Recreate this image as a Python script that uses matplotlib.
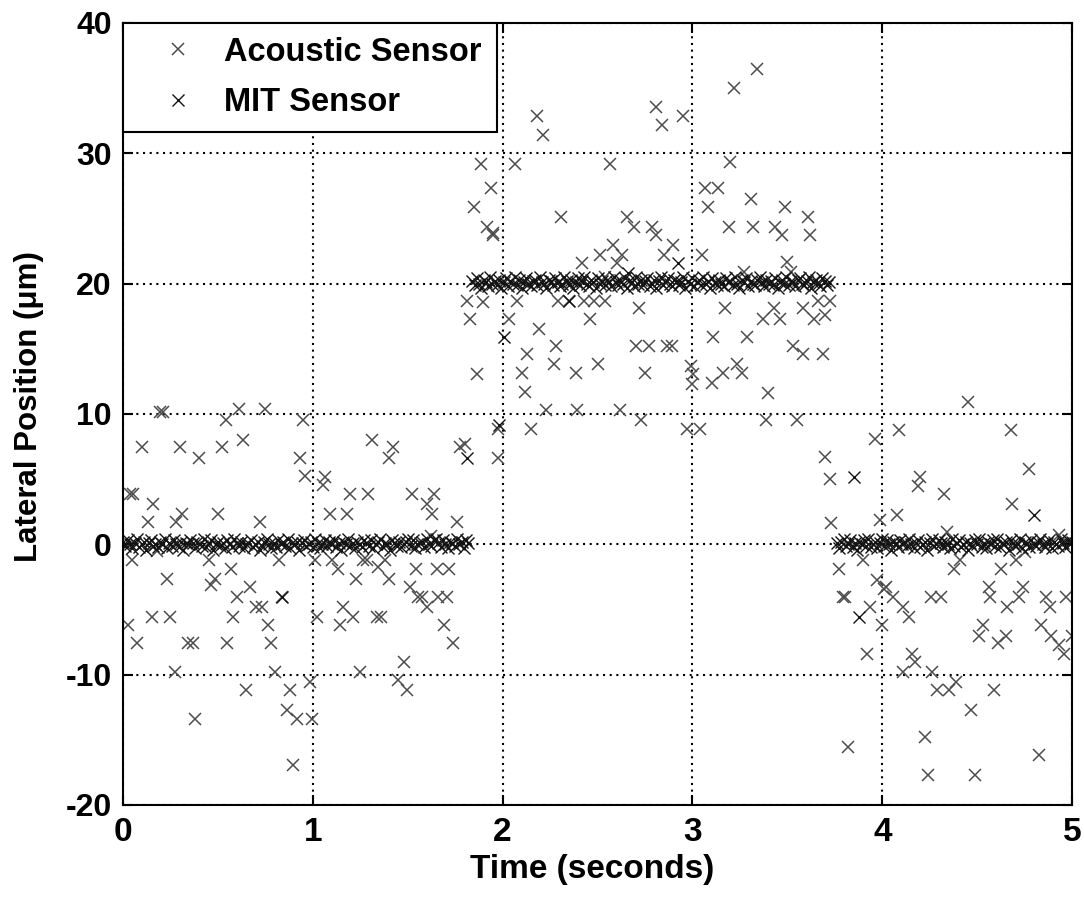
import numpy as np
import matplotlib
matplotlib.use("Agg")
import matplotlib.pyplot as plt

plt.rcParams['axes.unicode_minus'] = False

# acoustic sensor samples (time s, lateral position um)
acoustic_t = [0.195, 0.21, 0.61, 0.75, 0.54, 0.95, 0.098, 0.30, 0.52, 0.634, 0.40, 0.93, 0.96,
              0.037, 0.054, 0.16, 0.133, 0.28, 0.31, 0.50, 0.72, 0.046, 0.18, 0.453, 0.82, 0.23,
              0.57, 0.485, 0.462, 0.67, 0.60, 0.70, 0.73, 0.15, 0.25, 0.58, 0.028, 0.766, 0.072,
              0.344, 0.37, 0.546, 0.78, 0.274, 0.80, 0.646, 0.88, 0.862, 0.915, 0.38, 0.985, 0.994,
              0.897, 0.84,
              1.977, 1.977, 1.31, 1.424, 1.403, 1.776, 1.80, 1.064, 1.052, 1.196, 1.29, 1.52, 1.64,
              1.60, 1.63, 1.09, 1.18, 1.758, 1.01, 1.10, 1.13, 1.266, 1.284, 1.38, 1.345, 1.40,
              1.23, 1.544, 1.656, 1.715, 1.51, 1.556, 1.574, 1.60, 1.66, 1.705, 1.16, 1.21, 1.02,
              1.143, 1.337, 1.36, 1.69, 1.737, 1.25, 1.48, 1.45, 1.494, 1.62,
              2.18, 2.215, 2.81, 2.84, 2.95, 2.065, 2.566, 1.94, 1.95, 2.31, 2.654, 2.69, 2.785,
              2.81, 2.90, 2.85, 2.58, 2.63, 2.60, 2.513, 2.42, 2.54, 2.074, 2.29, 2.35, 2.43, 2.48,
              2.54, 2.46, 2.72, 2.035, 2.19, 2.13, 2.28, 2.70, 2.77, 2.865, 2.89, 2.10, 2.27, 2.387,
              2.50, 2.75, 2.99, 3.005, 3.0, 2.12, 2.23, 2.39, 2.62, 2.73, 2.15, 2.97, 1.885, 1.85,
              1.916, 1.948, 1.81, 1.895, 1.83, 1.863,
              3.34, 3.22, 3.20, 3.066, 3.136, 3.08, 3.31, 3.49, 3.61, 3.62, 3.19, 3.32, 3.435, 3.47,
              3.05, 3.50, 3.52, 3.27, 3.17, 3.43, 3.37, 3.46, 3.585, 3.64, 3.70, 3.66, 3.725, 3.11,
              3.285, 3.53, 3.58, 3.69, 3.233, 3.26, 3.16, 3.105, 3.40, 3.04, 3.39, 3.55, 3.96, 3.70,
              3.725,
              3.73, 3.99, 3.77, 3.90, 3.795, 3.805, 3.935, 3.97, 4.01, 4.0, 3.92, 3.82,
              4.45, 4.09, 4.68, 4.775, 4.20, 4.187, 4.326, 4.685, 4.08, 4.34, 4.93, 4.41, 4.38,
              4.705, 4.75, 4.624, 4.02, 4.055, 4.255, 4.31, 4.11, 4.14, 4.56, 4.565, 4.655, 4.74,
              4.72, 4.86, 4.885, 4.97, 4.53, 4.51, 4.65, 4.61, 4.835, 4.89, 4.93, 4.955, 5.0,
              4.155, 4.17, 4.11, 4.26, 4.287, 4.353, 4.39, 4.59, 4.47, 4.225, 4.826, 4.24, 4.49]
acoustic_y = [10.15, 10.15, 10.4, 10.4, 9.5, 9.5, 7.47, 7.47, 7.47, 8.03, 6.65, 6.65, 5.24,
              3.89, 3.89, 3.12, 1.71, 1.71, 2.35, 2.35, 1.71, -1.23, -0.5, -1.23, -1.23, -2.63,
              -1.87, -2.63, -3.15, -3.28, -4.04, -4.81, -4.81, -5.58, -5.58, -5.58, -6.2, -6.2, -7.6,
              -7.6, -7.6, -7.6, -7.6, -9.8, -9.8, -11.2, -11.2, -12.74, -13.38, -13.38, -10.57, -13.38,
              -16.96, -4.04,
              8.88, 6.65, 8.03, 7.47, 6.65, 7.47, 7.73, 5.17, 4.53, 3.89, 3.89, 3.89, 3.89,
              3.12, 2.35, 2.35, 2.35, 1.71, -1.23, -1.23, -1.87, -1.23, -1.23, -1.23, -1.74, -2.63,
              -2.63, -1.87, -1.87, -1.87, -3.28, -4.04, -4.04, -4.81, -4.04, -4.04, -4.81, -5.58, -5.58,
              -6.2, -5.58, -5.58, -6.2, -7.6, -9.8, -9.03, -10.44, -11.2, 0.6,
              32.85, 31.4, 33.56, 32.2, 32.85, 29.2, 29.2, 27.3, 23.85, 25.1, 25.1, 24.35, 24.35,
              23.7, 22.95, 22.2, 22.95, 22.2, 21.55, 22.2, 21.55, 20.5, 18.7, 18.7, 18.7, 18.7, 18.7,
              18.7, 17.3, 18.1, 17.3, 16.55, 14.6, 15.2, 15.2, 15.2, 15.2, 15.2, 13.15, 13.8, 13.15,
              13.8, 13.15, 13.7, 13.1, 12.3, 11.7, 10.3, 10.3, 10.3, 9.5, 8.88, 8.88, 29.2, 25.9,
              24.35, 23.7, 18.7, 18.6, 17.25, 13.1,
              36.5, 35.0, 29.3, 27.3, 27.3, 25.9, 26.5, 25.9, 25.1, 23.7, 24.35, 24.35, 24.35, 23.7,
              22.2, 21.67, 20.9, 20.9, 18.1, 18.1, 17.3, 17.3, 18.1, 17.3, 17.6, 18.7, 18.7, 15.9,
              15.9, 15.2, 14.6, 14.6, 13.87, 13.15, 13.15, 12.4, 11.6, 8.88, 9.5, 9.5, 8.1, 6.7,
              5.0,
              1.63, 1.84, -1.87, -1.23, -4.04, -4.04, -4.81, -2.71, -3.4, -6.2, -8.4, -15.55,
              10.9, 8.8, 8.8, 5.8, 5.2, 4.45, 3.84, 3.07, 2.28, 0.95, 0.7, -1.23, -1.87,
              -1.23, -0.6, -1.87, -3.28, -4.04, -4.04, -4.04, -4.81, -5.58, -3.28, -4.04, -4.81, -3.28,
              -4.04, -4.04, -4.81, -4.04, -6.2, -7.0, -7.0, -7.6, -6.2, -7.0, -7.75, -8.4, -7.0,
              -8.4, -9.03, -9.8, -9.8, -11.2, -11.2, -10.57, -11.2, -12.74, -14.8, -16.2, -17.73, -17.73]

# MIT sensor: three steady stretches (0 um, 20 um, 0 um)
mit_y1 = [0.2, -0.1, 0.3, 0.0, -0.3, 0.1, 0.4, -0.2, 0.0, 0.2, -0.4, 0.1, 0.3, -0.1, 0.0,
          -0.2, 0.2, 0.0, 0.4, -0.3, 0.1, -0.1, 0.3, 0.0, -0.2, 0.2, -0.4, 0.1, 0.0, 0.3,
          0.1, -0.3, 0.2, 0.0, -0.1, 0.4, -0.2, 0.1, 0.3, -0.4, 0.0, 0.2, -0.1, 0.1, -0.3,
          0.3, 0.0, -0.2, 0.4, 0.1, -0.1, 0.2, -0.3, 0.0, 0.1, 0.3, -0.2, 0.0, 0.2, -0.4,
          -0.1, 0.2, 0.4, 0.0, -0.3, 0.1, -0.2, 0.3, 0.0, 0.2, -0.1, 0.4, -0.3, 0.1, 0.0,
          0.2, -0.4, 0.1, 0.3, -0.1, 0.0, 0.2, -0.2, 0.4, 0.1, -0.3, 0.0, 0.3, -0.1, 0.2,
          0.0, 0.3, -0.2, 0.1, -0.4, 0.2, 0.0, 0.4, -0.1, 0.1, -0.3, 0.2, 0.0, -0.2, 0.3,
          0.1, -0.1, 0.3, -0.3, 0.0, 0.2, 0.4, -0.2, 0.1, 0.0, -0.4, 0.3, 0.1, -0.1, 0.2,
          -0.2, 0.0, 0.2, 0.4, -0.1, 0.3, -0.3, 0.0, 0.1, 0.2, -0.2, 0.4, 0.0, -0.1, 0.3,
          0.4, 0.1, -0.2, 0.3, 0.0, -0.3, 0.2, 0.1, -0.1, 0.4, 0.0, 0.2, -0.3, 0.3, 0.1]
mit_y2 = [20.2, 19.9, 20.4, 20.0, 19.7, 20.3, 20.1, 19.8, 20.5, 20.0, 20.2, 19.9, 20.3, 19.7, 20.1, 20.4,
          19.8, 20.2, 20.0, 20.5, 19.9, 20.3, 19.7, 20.1, 20.4, 20.0, 19.8, 20.2, 20.3, 19.9, 20.5, 20.1,
          20.0, 19.7, 20.3, 20.2, 19.9, 20.4, 20.1, 19.8, 20.0, 20.5, 20.2, 19.9, 20.3, 19.7, 20.1, 20.4,
          19.9, 20.2, 20.5, 20.0, 19.8, 20.3, 20.1, 19.7, 20.4, 20.0, 20.2, 19.9, 20.3, 20.1, 19.8, 20.5,
          20.1, 19.9, 20.3, 20.0, 20.4, 19.7, 20.2, 20.1, 19.8, 20.5, 20.0, 20.3, 19.9, 20.2, 20.4, 19.8,
          20.0, 20.3, 19.7, 20.2, 20.5, 19.9, 20.1, 20.4, 20.0, 19.8, 20.3, 20.2, 19.9, 20.1, 20.5, 19.7,
          20.2, 20.0, 20.4, 19.8, 20.1, 20.3, 19.9, 20.5, 20.0, 20.2, 19.7, 20.4, 20.1, 19.9, 20.3, 20.0,
          19.8, 20.4, 20.1, 20.2, 19.9, 20.5, 20.0, 19.7, 20.3, 20.1, 20.4, 19.8, 20.2, 20.0, 19.9, 20.3,
          20.5, 20.1, 19.8, 20.3, 20.0, 20.2, 19.9, 20.4, 19.7, 20.1, 20.3, 20.0, 20.5, 19.9, 20.2, 20.1,
          19.8, 20.3, 20.4, 20.0, 19.9, 20.2, 20.5, 19.7, 20.1, 20.3, 20.0, 19.8, 20.4, 20.2, 19.9, 20.1]
mit_y3 = [0.1, -0.3, 0.2, 0.4, -0.1, 0.0, 0.3, -0.2, 0.1, -0.4, 0.2, 0.0, 0.3, -0.1, 0.4,
          -0.2, 0.0, 0.2, -0.3, 0.1, 0.4, -0.1, 0.3, 0.0, -0.4, 0.2, 0.1, -0.2, 0.3, 0.0,
          0.2, -0.1, 0.4, 0.0, -0.3, 0.1, 0.3, -0.2, 0.0, 0.2, -0.4, 0.1, 0.4, -0.1, 0.0,
          0.3, 0.1, -0.2, 0.2, 0.0, -0.3, 0.4, -0.1, 0.1, 0.3, -0.2, 0.0, 0.2, -0.4, 0.1,
          -0.1, 0.3, 0.0, 0.4, -0.2, 0.1, -0.3, 0.2, 0.0, 0.3, -0.1, 0.4, -0.2, 0.1, 0.0,
          0.2, -0.4, 0.3, 0.1, -0.1, 0.0, 0.4, -0.3, 0.2, 0.1, -0.2, 0.3, 0.0, -0.1, 0.2,
          0.4, 0.0, -0.2, 0.1, 0.3, -0.3, 0.2, 0.0, -0.1, 0.4, 0.1, -0.2, 0.3, 0.0, 0.2]
mit_spans = [(0.0, 1.82), (1.84, 3.72), (3.76, 5.0)]
# a few stray MIT readings away from the steady level
mit_out_t = [0.84, 1.81, 1.98, 2.007, 2.35, 2.66, 2.925, 3.85, 3.88, 4.80]
mit_out_y = [-4.04, 6.65, 9.13, 15.9, 18.7, 20.8, 21.55, 5.2, -5.58, 2.28]

mit_t = []
mit_y = []
for (t0, t1), seg in zip(mit_spans, [mit_y1, mit_y2, mit_y3]):
    mit_t += list(np.linspace(t0, t1, len(seg)))
    mit_y += seg
mit_t += mit_out_t
mit_y += mit_out_y

bold = dict(family=['Liberation Sans', 'DejaVu Sans'], weight='bold')

fig = plt.figure(figsize=(10.84, 8.97), dpi=100)
ax = fig.add_axes([0.1135, 0.1026, 0.8755, 0.8718])

ax.plot(acoustic_t, acoustic_y, 'x', color='#4d4d4d', ms=8, mew=1.1, label='Acoustic Sensor')
ax.plot(mit_t, mit_y, 'x', color='#141414', ms=8, mew=1.0, label='MIT Sensor')

ax.set_xlim(0, 5)
ax.set_ylim(-20, 40)
ax.set_xticks([0, 1, 2, 3, 4, 5])
ax.set_yticks([-20, -10, 0, 10, 20, 30, 40])
ax.grid(True, color='black', linestyle=(0, (1, 2.2)), linewidth=1.5)
ax.set_axisbelow(True)

ax.tick_params(direction='in', length=7, width=1.5, top=True, right=True)
ax.tick_params(axis='x', pad=9)
ax.tick_params(axis='y', pad=8)
for lab in ax.get_yticklabels():
    lab.set(fontsize=23, **bold)
for lab in ax.get_xticklabels():
    lab.set(fontsize=24, **bold)
for sp in ax.spines.values():
    sp.set_linewidth(1.5)

ax.set_xlabel('Time (seconds)', fontsize=24, **bold)
ax.set_ylabel('Lateral Position (\u03bcm)', fontsize=22.5, **bold)
ax.xaxis.set_label_coords(0.494, -0.063)
ax.yaxis.set_label_coords(-0.083, 0.51)

leg = ax.legend(loc='upper left', bbox_to_anchor=(0, 1, 0.394, 0), mode='expand',
                borderaxespad=0, numpoints=1, handlelength=2.5, handletextpad=0.18,
                borderpad=0.42, labelspacing=0.6, fancybox=False, framealpha=1,
                prop=dict(family=['Liberation Sans', 'DejaVu Sans'], weight='bold', size=23.5))
leg.get_frame().set_edgecolor('black')
leg.get_frame().set_linewidth(1.5)

fig.savefig('out.png', dpi=100)
